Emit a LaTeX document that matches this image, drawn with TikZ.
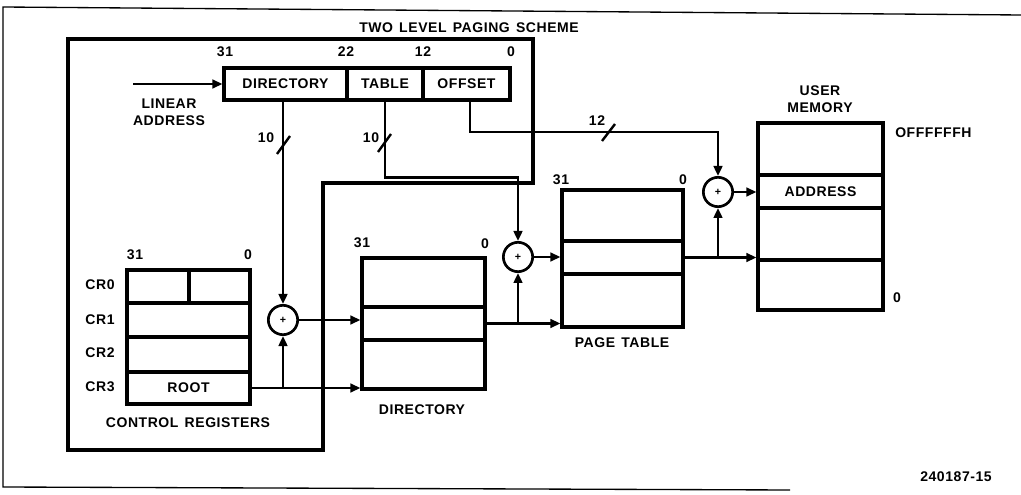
\documentclass[tikz,border=0pt]{standalone}
\usepackage{fontspec}
\setmainfont{Liberation Sans}[LetterSpace=4,WordSpace={1.4}]
\usetikzlibrary{arrows.meta}
\begin{document}
\begin{tikzpicture}[x=0.75pt,y=-0.75pt,
  txt/.style={inner sep=0pt,font=\fontsize{10.5}{12.5}\selectfont\bfseries},
  cell/.style={draw,line width=2.4pt,inner sep=0pt,font=\fontsize{10.5}{12.5}\selectfont\bfseries},
  adder/.style={draw,circle,line width=2pt,minimum size=22pt,inner sep=0pt,font=\fontsize{8}{8}\selectfont\bfseries},
  conn/.style={line width=1.8pt},
  arr/.style={conn,-{Triangle[length=7.5pt,width=6.5pt]}},
  frame/.style={line width=2.6pt,line join=miter},
  outer/.style={line width=1pt}]
\useasboundingbox (0,0) rectangle (1021,495);
% outer page frame
\draw[outer] (1021,15) -- (3,7) -- (3,487) -- (790,490);
% inner frame
\draw[frame] (68,39) -- (533,39) -- (533,183) -- (323,183) -- (323,450) -- (68,450) -- cycle;
\node[txt] (title) at (469,28) {TWO LEVEL PAGING SCHEME};
% linear address
\node[cell,minimum width=92.25pt,minimum height=24pt] (ladir) at (285.5,84) {DIRECTORY};
\node[cell,minimum width=57pt,minimum height=24pt] (latab) at (385,84) {TABLE};
\node[cell,minimum width=65.25pt,minimum height=24pt] (laoff) at (466.5,84) {OFFSET};
\node[txt] (b31) at (225,52) {31};
\node[txt] (b22) at (346,52) {22};
\node[txt] (b12) at (423,52) {12};
\node[txt] (b0) at (511,52) {0};
\coordinate (lin) at (133,84);
\node[txt,align=center] (linlab) at (169,112) {LINEAR\\ADDRESS};
\draw[arr] (lin) -- (ladir.west);
% control registers
\node[cell,minimum width=46.5pt,minimum height=24.75pt] (cr0a) at (158,286.5) {};
\node[cell,minimum width=45.75pt,minimum height=24.75pt] (cr0b) at (219.5,286.5) {};
\node[cell,minimum width=92.25pt,minimum height=25.5pt] (cr1) at (188.5,320) {};
\node[cell,minimum width=92.25pt,minimum height=26.25pt] (cr2) at (188.5,354.5) {};
\node[cell,minimum width=92.25pt,minimum height=24pt] (cr3) at (188.5,388) {ROOT};
\node[txt] (c31) at (135,255) {31};
\node[txt] (c0) at (248,255) {0};
\node[txt] (lcr0) at (100,285) {CR0};
\node[txt] (lcr1) at (100,320) {CR1};
\node[txt] (lcr2) at (100,353) {CR2};
\node[txt] (lcr3) at (100,387) {CR3};
\node[txt] (crlab) at (188,423) {CONTROL REGISTERS};
% directory
\node[cell,minimum width=92.25pt,minimum height=36.75pt] (dir1) at (423.5,282.5) {};
\node[cell,minimum width=92.25pt,minimum height=24.75pt] (dir2) at (423.5,323.5) {};
\node[cell,minimum width=92.25pt,minimum height=36.75pt] (dir3) at (423.5,364.5) {};
\node[txt] (d31) at (362,243) {31};
\node[txt] (d0) at (485,244) {0};
\node[txt] (dirlab) at (422,410) {DIRECTORY};
% page table
\node[cell,minimum width=90.75pt,minimum height=38.25pt] (pt1) at (622.5,215.5) {};
\node[cell,minimum width=90.75pt,minimum height=24.75pt] (pt2) at (622.5,257.5) {};
\node[cell,minimum width=90.75pt,minimum height=39.75pt] (pt3) at (622.5,300.5) {};
\node[txt] (p31) at (561,180) {31};
\node[txt] (p0) at (683,180) {0};
\node[txt] (ptlab) at (622,343) {PAGE TABLE};
% user memory
\node[cell,minimum width=93.75pt,minimum height=39pt] (m1) at (820.5,149) {};
\node[cell,minimum width=93.75pt,minimum height=24.75pt] (m2) at (820.5,191.5) {ADDRESS};
\node[cell,minimum width=93.75pt,minimum height=39pt] (m3) at (820.5,234) {};
\node[cell,minimum width=93.75pt,minimum height=37.5pt] (m4) at (820.5,285) {};
\node[txt,align=center] (umlab) at (820,99) {USER\\MEMORY};
\node[txt,anchor=west] (mtop) at (895,133) {OFFFFFFH};
\node[txt] (mbot) at (897,298) {0};
% adders
\node[adder] (add1) at (283,320) {+};
\node[adder] (add2) at (518,257) {+};
\node[adder] (add3) at (718,192) {+};
% connectors
\draw[arr] (add1 |- ladir.south) -- (add1.north);
\draw[arr] (latab.south) -- ++(0,76) -| (add2.north);
\draw[arr] (470,100) |- (add3 |- 0,132) -- (add3.north);
\draw[arr] (add1.east) -- (add1.east -| dir2.west);
\draw[arr] (cr3.east) -- (cr3.east -| dir3.west);
\draw[arr] (add1 |- cr3.east) -- (add1.south);
\draw[arr] (dir2.east) -- (dir2.east -| pt3.west);
\draw[arr] (add2 |- dir2.east) -- (add2.south);
\draw[arr] (add2.east) -- (add2.east -| pt2.west);
\draw[arr] (pt2.east) -- (pt2.east -| m3.west);
\draw[arr] (add3 |- pt2.east) -- (add3.south);
\draw[arr] (add3.east) -- (add3.east -| m2.west);
% bus width markers
\draw[conn] (277,154) -- (290,136);
\node[txt] (w1) at (266,138) {10};
\draw[conn] (378,152) -- (391,134);
\node[txt] (w2) at (371,138) {10};
\draw[conn] (602,141) -- (615,124);
\node[txt] (w3) at (597,121) {12};
\node[txt] (fig) at (956,477) {240187-15};
\end{tikzpicture}
\end{document}
